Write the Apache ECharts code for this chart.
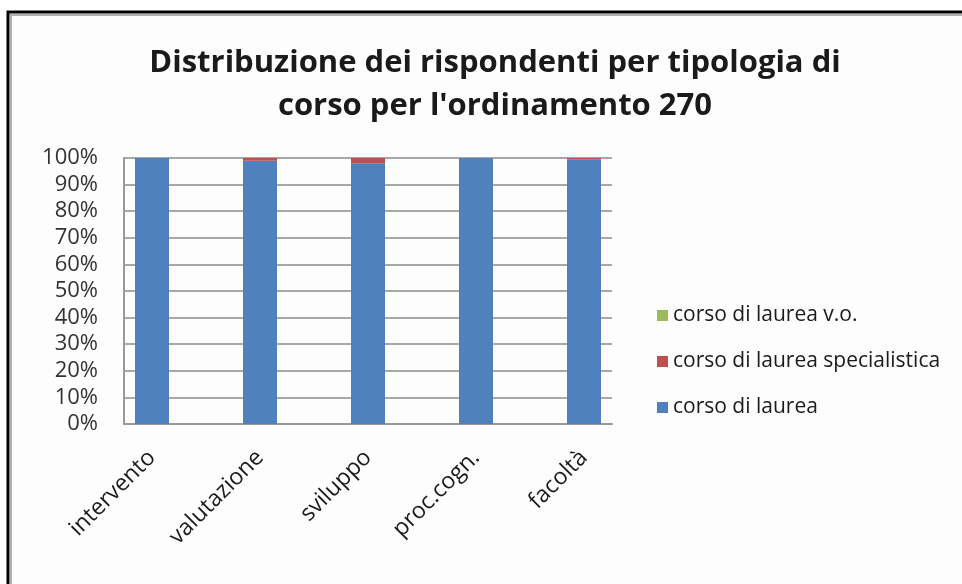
<!DOCTYPE html>
<html>
<head>
<meta charset="utf-8">
<script src="https://cdn.jsdelivr.net/npm/echarts@6/dist/echarts.min.js"></script>
<style>
html,body{margin:0;padding:0;background:#fff;}
#c{width:962px;height:584px;}
</style>
</head>
<body>
<div id="c"></div>
<script>
const categories = ['intervento', 'valutazione', 'sviluppo', 'proc.cogn.', 'facoltà'];
const laurea = [100, 99, 98, 100, 99.5];
const specialistica = [0, 1, 2, 0, 0.5];
const vecchioOrd = [0, 0, 0, 0, 0];
const yTicks = [0, 10, 20, 30, 40, 50, 60, 70, 80, 90, 100];

const chart = echarts.init(document.getElementById('c'));
const font = '"Open Sans", sans-serif';
chart.setOption({
  animation: false,
  backgroundColor: '#ffffff',
  graphic: [
    { type: 'rect', shape: { x: 8, y: 12, width: 980, height: 600 }, style: { fill: '#fdfdfd', stroke: '#000', lineWidth: 3 }, z: -10 },
    { type: 'rect', shape: { x: 11, y: 15, width: 980, height: 600 }, style: { fill: 'none', stroke: '#b0b0b0', lineWidth: 2 }, z: -9 }
  ],
  title: {
    text: 'Distribuzione dei rispondenti per tipologia di\ncorso per l\'ordinamento 270',
    left: 490, top: 37, textAlign: 'center',
    textStyle: { fontFamily: font, fontSize: 31, fontWeight: 'bold', color: '#1a1a1a', lineHeight: 43 }
  },
  legend: {
    orient: 'vertical', left: 652, top: 300, itemGap: 25,
    itemWidth: 11, itemHeight: 11, icon: 'rect',
    data: ['corso di laurea v.o.', 'corso di laurea specialistica', 'corso di laurea'],
    textStyle: { fontFamily: font, fontSize: 21, color: '#1a1a1a' }
  },
  grid: [
    { left: 124, top: 158, width: 488, height: 266 },
    { left: 98, top: 158, width: 540, height: 266 }
  ],
  xAxis: [
    { type: 'category', gridIndex: 0, data: categories,
      axisLine: { show: true, lineStyle: { color: '#9a9a9a', width: 2 } },
      axisTick: { show: false }, axisLabel: { show: false } },
    { type: 'category', gridIndex: 1, data: categories,
      axisLine: { show: false }, axisTick: { show: false },
      axisLabel: { rotate: 45, margin: 30, fontFamily: font, fontSize: 23, color: '#1a1a1a' } }
  ],
  yAxis: [
    { type: 'value', gridIndex: 0, min: 0, max: 100, interval: 10,
      axisLine: { show: true, lineStyle: { color: '#9a9a9a', width: 2 } },
      axisTick: { show: false },
      splitLine: { lineStyle: { color: '#a8a8a8', width: 2 } },
      axisLabel: { margin: 26, fontFamily: font, fontSize: 22, color: '#333',
        formatter: v => yTicks.includes(v) ? v + '%' : '' } },
    { type: 'value', gridIndex: 1, min: 0, max: 100, interval: 10, show: false, splitLine: { show: false } }
  ],
  series: [
    { name: 'corso di laurea', type: 'bar', stack: 'a', xAxisIndex: 1, yAxisIndex: 1, barWidth: 34,
      itemStyle: { color: '#4f81bd' }, data: laurea },
    { name: 'corso di laurea specialistica', type: 'bar', stack: 'a', xAxisIndex: 1, yAxisIndex: 1, barWidth: 34,
      itemStyle: { color: '#c0504d' }, data: specialistica },
    { name: 'corso di laurea v.o.', type: 'bar', stack: 'a', xAxisIndex: 1, yAxisIndex: 1, barWidth: 34,
      itemStyle: { color: '#9bbb59' }, data: vecchioOrd }
  ]
});
</script>
</body>
</html>
